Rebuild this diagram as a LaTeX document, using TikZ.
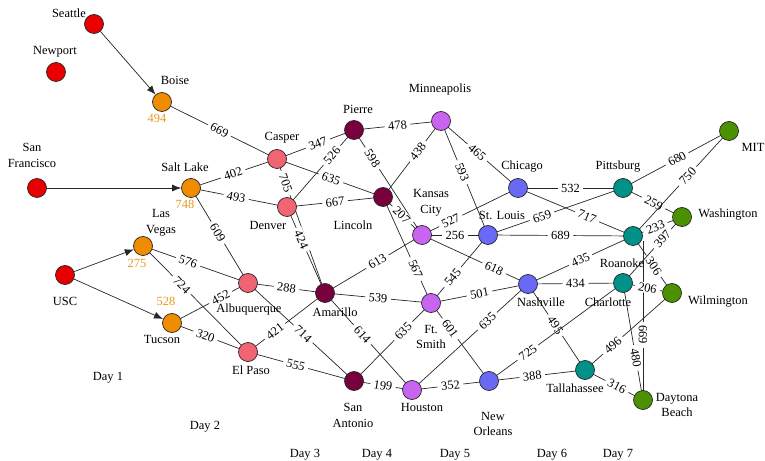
\documentclass[tikz,border=0pt]{standalone}
\usepackage{fontspec}
\setmainfont{Liberation Serif}
\usetikzlibrary{arrows.meta,backgrounds}

\definecolor{cRed}{RGB}{232,0,0}
\definecolor{cOrange}{RGB}{240,140,0}
\definecolor{cPink}{RGB}{240,100,115}
\definecolor{cMaroon}{RGB}{120,0,60}
\definecolor{cViolet}{RGB}{200,100,240}
\definecolor{cBlue}{RGB}{105,105,245}
\definecolor{cTeal}{RGB}{0,145,135}
\definecolor{cGreen}{RGB}{75,145,0}
\definecolor{cNum}{RGB}{235,150,30}

\begin{document}
\begin{tikzpicture}[
    x=1bp,y=-1bp,
    font=\fontsize{12.5}{16}\selectfont,
    city/.style={circle,draw=black!85,line width=0.7pt,minimum size=19bp,inner sep=0pt},
    t0/.style={city,fill=cRed},
    t1/.style={city,fill=cOrange},
    t2/.style={city,fill=cPink},
    t3/.style={city,fill=cMaroon},
    t4/.style={city,fill=cViolet},
    t5/.style={city,fill=cBlue},
    t6/.style={city,fill=cTeal},
    t7/.style={city,fill=cGreen},
    cityname/.style={inner sep=0pt,align=center},
    num/.style={inner sep=0pt,text=cNum},
    road/.style={draw=black!85,line width=0.7pt},
    dist/.style={sloped,fill=white,inner xsep=3.5bp,inner ysep=1bp},
    arr/.style={road,-{Latex[length=9bp,width=7bp]}}
]
    \useasboundingbox (0,0) rectangle (765,461);

    % cities
    \node[t0] (seattle) at (94,24) {};
    \node[t0] (newport) at (56,72) {};
    \node[t0] (sanfran) at (37,188) {};
    \node[t0] (usc) at (65,275) {};
    \node[t1] (boise) at (162,102) {};
    \node[t1] (saltlake) at (191,188) {};
    \node[t1] (lasvegas) at (143,246) {};
    \node[t1] (tucson) at (172,323) {};
    \node[t2] (casper) at (277,159) {};
    \node[t2] (denver) at (287,207) {};
    \node[t2] (albuq) at (248,283) {};
    \node[t2] (elpaso) at (248,352) {};
    \node[t3] (pierre) at (354,130) {};
    \node[t3] (lincoln) at (383,197) {};
    \node[t3] (amarillo) at (325,293) {};
    \node[t3] (sanant) at (354,381) {};
    \node[t4] (minneap) at (441,121) {};
    \node[t4] (kansas) at (422,235) {};
    \node[t4] (ftsmith) at (431,303) {};
    \node[t4] (houston) at (412,390) {};
    \node[t5] (chicago) at (518,188) {};
    \node[t5] (stlouis) at (488,235) {};
    \node[t5] (nashville) at (528,284) {};
    \node[t5] (neworl) at (489,381) {};
    \node[t6] (pittsburg) at (623,188) {};
    \node[t6] (roanoke) at (633,236) {};
    \node[t6] (charlotte) at (623,283) {};
    \node[t6] (tallah) at (585,370) {};
    \node[t7] (mit) at (729,131) {};
    \node[t7] (washington) at (682,217) {};
    \node[t7] (wilmington) at (672,293) {};
    \node[t7] (daytona) at (643,400) {};

    % names
    \node[cityname] (nSeattle) at (69,13) {Seattle};
    \node[cityname] (nNewport) at (55,52) {Newport};
    \node[cityname] (nBoise) at (175,80) {Boise};
    \node[cityname] (nSanfran) at (32,155) {San\\Francisco};
    \node[cityname] (nSaltlake) at (185,167) {Salt Lake};
    \node[cityname] (nLasvegas) at (161,223) {Las\\Vegas};
    \node[cityname] (nUsc) at (65,301) {USC};
    \node[cityname] (nTucson) at (162,339) {Tucson};
    \node[cityname] (nCasper) at (282,138) {Casper};
    \node[cityname] (nDenver) at (268,225) {Denver};
    \node[cityname] (nAlbuq) at (249,310) {Albuquerque};
    \node[cityname] (nElpaso) at (251,370) {El Paso};
    \node[cityname] (nPierre) at (358,109) {Pierre};
    \node[cityname] (nLincoln) at (353,225) {Lincoln};
    \node[cityname] (nAmarillo) at (335,312) {Amarillo};
    \node[cityname] (nSanant) at (353,415) {San\\Antonio};
    \node[cityname] (nMinneap) at (440,90) {Minneapolis};
    \node[cityname] (nKansas) at (431,203) {Kansas\\City};
    \node[cityname] (nFtsmith) at (431,337) {Ft.\\Smith};
    \node[cityname] (nHouston) at (422,407) {Houston};
    \node[cityname] (nChicago) at (522,167) {Chicago};
    \node[cityname] (nStlouis) at (502,215) {St. Louis};
    \node[cityname] (nNashville) at (541,302) {Nashville};
    \node[cityname] (nNeworl) at (493,424) {New\\Orleans};
    \node[cityname] (nPittsburg) at (618,167) {Pittsburg};
    \node[cityname] (nRoanoke) at (622,263) {Roanoke};
    \node[cityname] (nCharlotte) at (608,302) {Charlotte};
    \node[cityname] (nTallah) at (575,388) {Tallahassee};
    \node[cityname] (nMit) at (753,147) {MIT};
    \node[cityname] (nWashington) at (728,215) {Washington};
    \node[cityname] (nWilmington) at (718,302) {Wilmington};
    \node[cityname] (nDaytona) at (677,405) {Daytona\\Beach};

    \node[num] (kBoise) at (157,118) {494};
    \node[num] (kSaltlake) at (185,204) {748};
    \node[num] (kLasvegas) at (137,263) {275};
    \node[num] (kTucson) at (166,301) {528};

    \node[cityname] (day1) at (108,378) {Day 1};
    \node[cityname] (day2) at (205,427) {Day 2};
    \node[cityname] (day3) at (305,455) {Day 3};
    \node[cityname] (day4) at (377,455) {Day 4};
    \node[cityname] (day5) at (455,455) {Day 5};
    \node[cityname] (day6) at (552,455) {Day 6};
    \node[cityname] (day7) at (618,455) {Day 7};

    % starting arcs
    \draw[arr] (seattle) -- (boise);
    \draw[arr] (sanfran) -- (saltlake);
    \draw[arr] (usc) -- (lasvegas);
    \draw[arr] (usc) -- (tucson);

    % roads
    \begin{scope}[on background layer]
    \draw[road] (boise.center) -- node[dist,pos=.5] {669} (casper.center);
    \draw[road] (saltlake.center) -- node[dist,pos=.49] {402} (casper.center);
    \draw[road] (saltlake.center) -- node[dist,pos=.47] {493} (denver.center);
    \draw[road] (saltlake.center) -- node[dist,pos=.47] {609} (albuq.center);
    \draw[road] (lasvegas.center) -- node[dist,pos=.43] {576} (albuq.center);
    \draw[road] (lasvegas.center) -- node[dist,pos=.37] {724} (elpaso.center);
    \draw[road] (tucson.center) -- node[dist,pos=.64] {452} (albuq.center);
    \draw[road] (tucson.center) -- node[dist,pos=.44] {320} (elpaso.center);
    \draw[road] (casper.center) -- node[dist,pos=.53] {347} (pierre.center);
    \draw[road] (casper.center) -- node[dist,pos=.51] {635} (lincoln.center);
    \draw[road] (casper.center) -- node[dist,pos=.18] {705} (amarillo.center);
    \draw[road] (denver.center) -- node[dist,pos=.67] {526} (pierre.center);
    \draw[road] (denver.center) -- node[dist,pos=.5] {667} (lincoln.center);
    \draw[road] (denver.center) -- node[dist,pos=.38] {424} (amarillo.center);
    \draw[road] (albuq.center) -- node[dist,pos=.5] {288} (amarillo.center);
    \draw[road] (albuq.center) -- node[dist,pos=.52] {714} (sanant.center);
    \draw[road] (elpaso.center) -- node[dist,pos=.35] {421} (amarillo.center);
    \draw[road] (elpaso.center) -- node[dist,pos=.45] {555} (sanant.center);
    \draw[road] (pierre.center) -- node[dist,pos=.5] {478} (minneap.center);
    \draw[road] (pierre.center) -- node[dist,pos=.27] {598} (kansas.center);
    \draw[road] (lincoln.center) -- node[dist,pos=.6] {438} (minneap.center);
    \draw[road] (lincoln.center) -- node[dist,pos=.48] {207} (kansas.center);
    \draw[road] (lincoln.center) -- node[dist,pos=.68] {567} (ftsmith.center);
    \draw[road] (amarillo.center) -- node[dist,pos=.54] {613} (kansas.center);
    \draw[road] (amarillo.center) -- node[dist,pos=.5] {539} (ftsmith.center);
    \draw[road] (amarillo.center) -- node[dist,pos=.43] {614} (houston.center);
    \draw[road] (kansas.center) -- node[dist,pos=.5] {256} (stlouis.center);
    \draw[road] (kansas.center) -- node[dist,pos=.3] {527} (chicago.center);
    \draw[road] (kansas.center) -- node[dist,pos=.68] {618} (nashville.center);
    \draw[road] (minneap.center) -- node[dist,pos=.45] {593} (stlouis.center);
    \draw[road] (minneap.center) -- node[dist,pos=.47] {465} (chicago.center);
    \draw[road] (ftsmith.center) -- node[dist,pos=.38] {545} (stlouis.center);
    \draw[road] (ftsmith.center) -- node[dist,pos=.5] {501} (nashville.center);
    \draw[road] (ftsmith.center) -- node[dist,pos=.33] {601} (neworl.center);
    \draw[road] (ftsmith.center) -- node[dist,pos=.36] {635} (sanant.center);
    \draw[road] (sanant.center) -- node[dist,pos=.5] {199} (houston.center);
    \draw[road] (houston.center) -- node[dist,pos=.5] {352} (neworl.center);
    \draw[road] (houston.center) -- node[dist,pos=.65] {635} (nashville.center);
    \draw[road] (chicago.center) -- node[dist,pos=.5] {532} (pittsburg.center);
    \draw[road] (chicago.center) -- node[dist,pos=.6] {717} (roanoke.center);
    \draw[road] (stlouis.center) -- node[dist,pos=.4] {659} (pittsburg.center);
    \draw[road] (stlouis.center) -- node[dist,pos=.5] {689} (roanoke.center);
    \draw[road] (nashville.center) -- node[dist,pos=.5] {435} (roanoke.center);
    \draw[road] (nashville.center) -- node[dist,pos=.5] {434} (charlotte.center);
    \draw[road] (nashville.center) -- node[dist,pos=.48] {495} (tallah.center);
    \draw[road] (neworl.center) -- node[dist,pos=.45] {388} (tallah.center);
    \draw[road] (neworl.center) -- node[dist,pos=.29] {725} (charlotte.center);
    \draw[road] (pittsburg.center) -- node[dist,pos=.51] {680} (mit.center);
    \draw[road] (pittsburg.center) -- node[dist,pos=.52] {259} (washington.center);
    \draw[road] (roanoke.center) -- node[dist,pos=.57] {750} (mit.center);
    \draw[road] (roanoke.center) -- node[dist,pos=.46] {233} (washington.center);
    \draw[road] (roanoke.center) -- node[dist,pos=.53] {306} (wilmington.center);
    \draw[road] (daytona.center |- roanoke.-30) -- node[dist,pos=.59] {669} (daytona.center);
    \draw[road] (charlotte.center) -- node[dist,pos=.67] {397} (washington.center);
    \draw[road] (charlotte.center) -- node[dist,pos=.5] {206} (wilmington.center);
    \draw[road] (charlotte.center) -- node[dist,pos=.64] {480} (daytona.center);
    \draw[road] (tallah.center) -- node[dist,pos=.55] {316} (daytona.center);
    \draw[road] (tallah.center) -- node[dist,pos=.32] {496} (wilmington.center);
    \end{scope}
\end{tikzpicture}
\end{document}
